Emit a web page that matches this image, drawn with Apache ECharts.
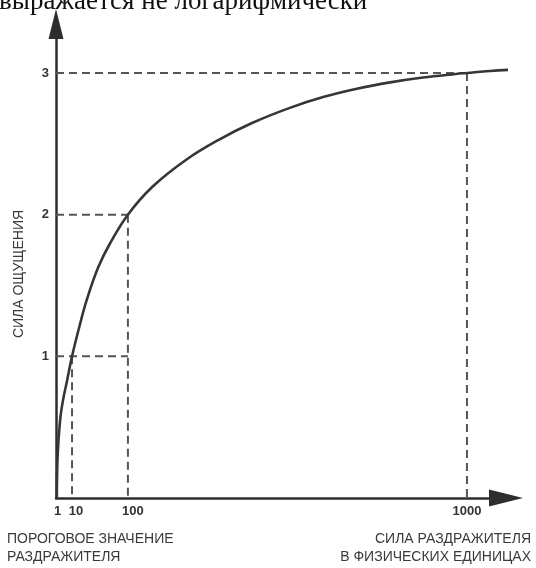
<!DOCTYPE html>
<html>
<head>
<meta charset="utf-8">
<script src="https://cdn.jsdelivr.net/npm/echarts@6/dist/echarts.min.js"></script>
<style>html,body{margin:0;padding:0;background:#fff}#c{width:536px;height:568px}</style>
</head>
<body>
<div id="c"></div>
<script>
// The original horizontal axis is a schematic (not to scale): values below are
// positions along that drawn axis, in units where the "1000" mark sits at 1000.
var xTickValues = [4, 39, 175, 1000];
var xTickLabels = ['1', '10', '100', '1000'];
var yTickValues = [1, 2, 3];
var yTickLabels = ['1', '2', '3'];

// Sensation curve
var curveX = [2, 4, 10, 17, 27, 39, 56, 75, 103, 132, 175, 234, 316, 397, 477, 569, 650, 732, 813, 893, 973, 1000, 1056, 1117];
var curveY = [0, 0.3, 0.55, 0.69, 0.83, 1.0, 1.2, 1.4, 1.63, 1.8, 2.0, 2.195, 2.386, 2.53, 2.647, 2.754, 2.83, 2.889, 2.934, 2.968, 2.993, 3.0, 3.014, 3.025];

// Dashed guide lines
var hGuideY = [1, 2, 3];
var hGuideEndX = [175, 175, 1000];
var vGuideX = [39, 175, 1000];
var vGuideTopY = [1, 2, 3];

var topText = 'выражается не логарифмически';
var yName = 'СИЛА ОЩУЩЕНИЯ';
var leftNote = ['ПОРОГОВОЕ ЗНАЧЕНИЕ', 'РАЗДРАЖИТЕЛЯ'];
var rightNote = ['СИЛА РАЗДРАЖИТЕЛЯ', 'В ФИЗИЧЕСКИХ ЕДИНИЦАХ'];

var chart = echarts.init(document.getElementById('c'), null, {renderer: 'canvas'});

var dashStyle = {color: '#555', width: 2, type: [8, 5]};
var series = [];
for (var i = 0; i < hGuideY.length; i++) {
  series.push({type: 'line', data: [[0, hGuideY[i]], [hGuideEndX[i], hGuideY[i]]], showSymbol: false, silent: true, z: 1, lineStyle: dashStyle});
}
for (var j = 0; j < vGuideX.length; j++) {
  series.push({type: 'line', data: [[vGuideX[j], vGuideTopY[j]], [vGuideX[j], 0]], showSymbol: false, silent: true, z: 1, lineStyle: dashStyle});
}
series.push({
  type: 'line',
  data: curveX.map(function (x, k) { return [x, curveY[k]]; }),
  showSymbol: false, smooth: 0.4, z: 3,
  lineStyle: {color: '#363636', width: 2.6}
});

var textFont = 'Liberation Sans, Arial, sans-serif';
var option = {
  backgroundColor: '#fff',
  animation: false,
  grid: {left: 56, right: 30, top: 24, bottom: 70},
  xAxis: {
    type: 'value', min: 0, max: 1095,
    axisLine: {show: true, lineStyle: {color: '#2e2e2e', width: 2.5}, symbol: ['none', 'triangle'], symbolSize: [17, 34]},
    axisTick: {show: false},
    splitLine: {show: false},
    axisLabel: {
      customValues: xTickValues,
      margin: 7,
      color: '#333', fontSize: 13, fontWeight: 'bold', fontFamily: textFont,
      formatter: function (v) {
        var idx = xTickValues.indexOf(v);
        var s = idx >= 0 ? xTickLabels[idx] : '';
        if (s === '10') return '{a|' + s + '}';
        if (s === '100') return '{b|' + s + '}';
        return s;
      },
      rich: {
        a: {padding: [0, 0, 0, 8], color: '#333', fontSize: 13, fontWeight: 'bold', fontFamily: textFont},
        b: {padding: [0, 0, 0, 10], color: '#333', fontSize: 13, fontWeight: 'bold', fontFamily: textFont}
      }
    }
  },
  yAxis: {
    type: 'value', min: 0, max: 3.346,
    axisLine: {show: true, lineStyle: {color: '#2e2e2e', width: 2.5}, symbol: ['none', 'triangle'], symbolSize: [15, 30]},
    axisTick: {show: false},
    splitLine: {show: false},
    axisLabel: {
      customValues: yTickValues,
      margin: 7,
      color: '#333', fontSize: 13, fontWeight: 'bold', fontFamily: textFont,
      formatter: function (v) {
        var idx = yTickValues.indexOf(v);
        return idx >= 0 ? yTickLabels[idx] : '';
      }
    }
  },
  graphic: [
    {type: 'text', x: -1, y: 15, style: {text: topText, font: '27px "Liberation Serif", "Times New Roman", serif', fill: '#111', verticalAlign: 'bottom'}},
    {type: 'text', x: 19, y: 274, rotation: Math.PI / 2, style: {text: yName, font: '14px ' + textFont, fill: '#3a3a3a', align: 'center', verticalAlign: 'middle'}},
    {type: 'text', x: 7, y: 539, style: {text: leftNote[0], font: '14px ' + textFont, fill: '#3a3a3a', verticalAlign: 'middle'}},
    {type: 'text', x: 7, y: 557, style: {text: leftNote[1], font: '14px ' + textFont, fill: '#3a3a3a', verticalAlign: 'middle'}},
    {type: 'text', x: 531, y: 539, style: {text: rightNote[0], font: '14px ' + textFont, fill: '#3a3a3a', align: 'right', verticalAlign: 'middle'}},
    {type: 'text', x: 531, y: 557, style: {text: rightNote[1], font: '14px ' + textFont, fill: '#3a3a3a', align: 'right', verticalAlign: 'middle'}}
  ],
  series: series
};
chart.setOption(option);
</script>
</body>
</html>
